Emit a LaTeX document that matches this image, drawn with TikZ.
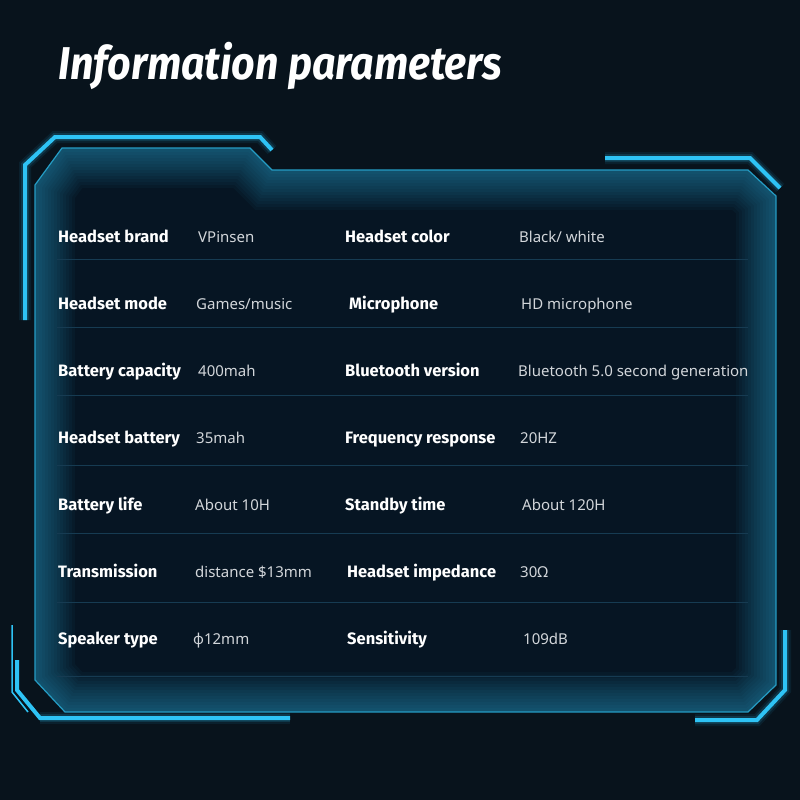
\documentclass[tikz,border=0pt]{standalone}
\usepackage{fontspec}
\setmainfont{Noto Sans}
\newfontfamily\labfont{Fira Sans}
\newfontfamily\titlefont{Fira Sans}
\begin{document}
\begin{tikzpicture}[x=1pt,y=-1pt,
  lab/.style={anchor=base west,text=white,font=\labfont\fontsize{16.5}{18}\selectfont\bfseries,inner sep=0},
  val/.style={anchor=base west,text=valc,font=\fontsize{15}{18}\selectfont,inner sep=0},
  bracket/.style={draw=cyanl,line width=4pt,line join=miter},
  sep/.style={draw=sepc,line width=1pt}]
\definecolor{bg}{HTML}{08131C}
\definecolor{cyanl}{HTML}{2EC3F5}
\definecolor{panel}{HTML}{061523}
\definecolor{sepc}{HTML}{163B52}
\definecolor{valc}{HTML}{D2D6DA}
\fill[bg] (0,0) rectangle (800,800);
\useasboundingbox (0,0) rectangle (800,800);
\node[anchor=base west,text=white,inner sep=0,font=\titlefont\fontsize{46}{50}\selectfont\bfseries\itshape,xscale=0.895] (title) at (58,80) {Information parameters};
% outer brackets with glow
\foreach \w/\o in {12/0.08,8/0.15}{
 \draw[cyanl,line width=\w pt,opacity=\o,line join=miter] (25,320) -- (25,165) -- (55,137) -- (260,137) -- (272,150);
 \draw[cyanl,line width=\w pt,opacity=\o] (605,158) -- (750,158) -- (780,188);
 \draw[cyanl,line width=\w pt,opacity=\o] (785,630) -- (785,690) -- (757,720) -- (695,720);
 \draw[cyanl,line width=\w pt,opacity=\o] (40,718) -- (290,718);
}
\draw[bracket] (25,320) -- (25,165) -- (55,137) -- (260,137) -- (272,150);
\draw[bracket] (605,158) -- (750,158) -- (780,188);
\draw[bracket] (785,630) -- (785,690) -- (757,720) -- (695,720);
\draw[bracket] (17,660) -- (17,690) -- (40,718) -- (290,718);
\draw[cyanl,line width=1.5pt] (12,625) -- (12,692) -- (28,712);
% panel
\path[fill=panel] (35,185) -- (62,148) -- (250,148) -- (272,170) -- (748,170) -- (776,196) -- (776,685) -- (748,712) -- (65,712) -- (35,680) -- cycle;
\begin{scope}
\clip (35,185) -- (62,148) -- (250,148) -- (272,170) -- (748,170) -- (776,196) -- (776,685) -- (748,712) -- (65,712) -- (35,680) -- cycle;
\foreach \w in {80,74,...,4}{
 \draw[cyanl,line width=\w pt,opacity=0.035] (35,185) -- (62,148) -- (250,148) -- (272,170) -- (748,170) -- (776,196) -- (776,685) -- (748,712) -- (65,712) -- (35,680) -- cycle;
}
\end{scope}
\draw[cyanl!80!black,line width=1.2pt] (35,185) -- (62,148) -- (250,148) -- (272,170) -- (748,170) -- (776,196) -- (776,685) -- (748,712) -- (65,712) -- (35,680) -- cycle;
% separators
\foreach \y in {259,327,395,465,533,602,676}{\draw[sep] (57,\y) -- (748,\y);}
% texts
\node[lab] (l1) at (58,242) {Headset brand};
\node[val] (v1) at (198,242) {VPinsen};
\node[lab] (m1) at (345,242) {Headset color};
\node[val] (w1) at (519,242) {Black/ white};
\node[lab] (l2) at (58,309) {Headset mode};
\node[val] (v2) at (196,309) {Games/music};
\node[lab] (m2) at (349,309) {Microphone};
\node[val] (w2) at (521,309) {HD microphone};
\node[lab] (l3) at (58,376) {Battery capacity};
\node[val] (v3) at (198,376) {400mah};
\node[lab] (m3) at (345,376) {Bluetooth version};
\node[val] (w3) at (518,376) {Bluetooth 5.0 second generation};
\node[lab] (l4) at (58,443) {Headset battery};
\node[val] (v4) at (196,443) {35mah};
\node[lab] (m4) at (345,443) {Frequency response};
\node[val] (w4) at (520,443) {20HZ};
\node[lab] (l5) at (58,510) {Battery life};
\node[val] (v5) at (195,510) {About 10H};
\node[lab] (m5) at (345,510) {Standby time};
\node[val] (w5) at (522,510) {About 120H};
\node[lab] (l6) at (58,577) {Transmission};
\node[val] (v6) at (195,577) {distance \$13mm};
\node[lab] (m6) at (347,577) {Headset impedance};
\node[val] (w6) at (520,577) {30Ω};
\node[lab] (l7) at (58,644) {Speaker type};
\node[val] (v7) at (193,644) {ϕ12mm};
\node[lab] (m7) at (347,644) {Sensitivity};
\node[val] (w7) at (523,644) {109dB};
\end{tikzpicture}
\end{document}
